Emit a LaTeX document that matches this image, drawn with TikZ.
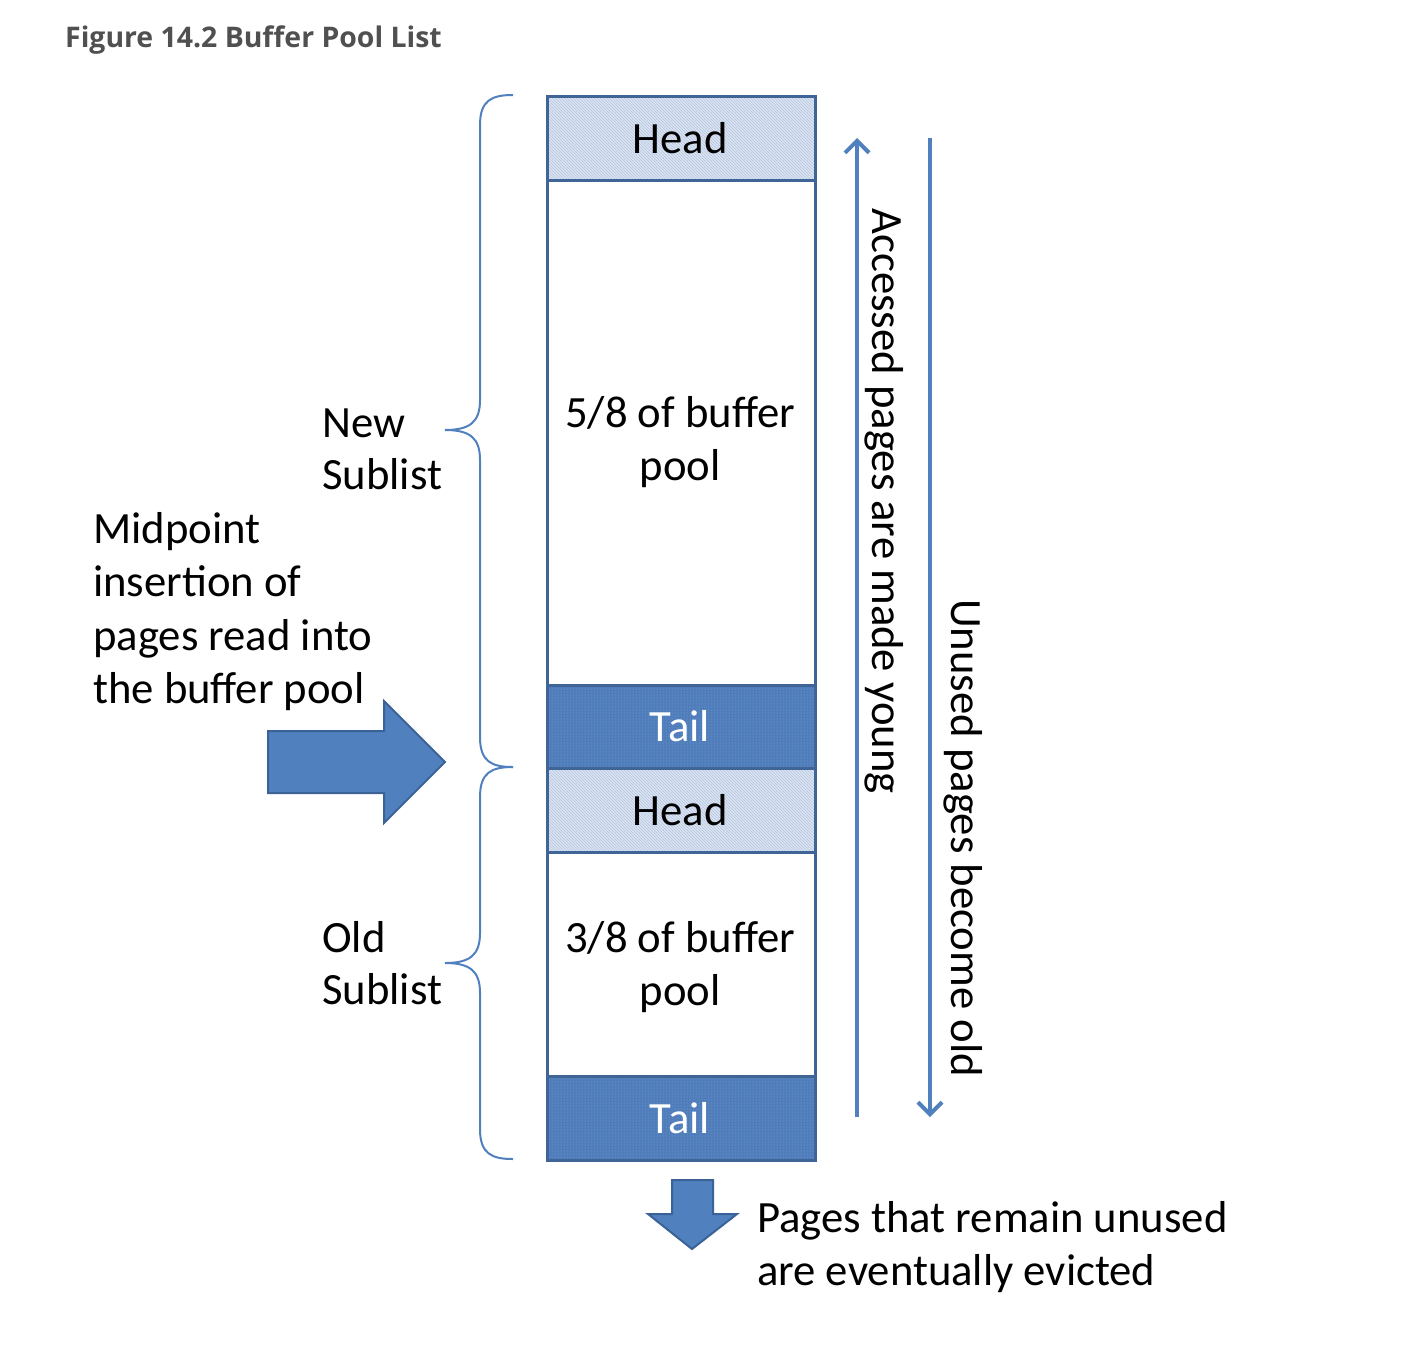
\documentclass[tikz,border=0pt]{standalone}
\usepackage{fontspec}
\setmainfont{Carlito}
\newfontfamily\titlefont{Open Sans}
\usetikzlibrary{patterns,arrows.meta}
\definecolor{boxborder}{HTML}{3F6496}
\definecolor{tailblue}{HTML}{4F7DBB}
\definecolor{taildot}{HTML}{86A6D3}
\definecolor{headblue}{HTML}{DCE4F1}
\definecolor{headline}{HTML}{B3C5E0}
\definecolor{lineblue}{HTML}{5081BE}
\definecolor{arrowedge}{HTML}{3B6296}
\definecolor{titlegray}{HTML}{505050}
\begin{document}
\begin{tikzpicture}[x=1pt,y=-1pt,
  cell/.style={draw=boxborder, line width=3pt, minimum width=268pt, inner sep=0pt, anchor=north west},
  headcell/.style={cell, preaction={fill=headblue}, pattern=north west lines, pattern color=headline},
  tailcell/.style={cell, preaction={fill=tailblue}, pattern=dots, pattern color=taildot},
  bodycell/.style={cell, fill=white},
  txt/.style={font=\fontsize{44.7}{54}\selectfont, inner sep=0pt, text=black},
  brace/.style={draw=lineblue, line width=2pt},
  flow/.style={draw=lineblue, line width=4pt},
  fatarrow/.style={fill=lineblue, draw=arrowedge, line width=2pt, line join=miter}
]
\useasboundingbox (0,0) rectangle (1404,1352);
% title
\node[anchor=base west, inner sep=0pt, font=\titlefont\bfseries\fontsize{28.4}{34}\selectfont, text=titlegray] (title) at (65,47) {Figure 14.2 Buffer Pool List};
% cells
\node[headcell, minimum height=84pt] (head1) at (546,95) {};
\node[bodycell, minimum height=505pt] (body1) at (546,179) {};
\node[tailcell, minimum height=83pt] (tail1) at (546,684) {};
\node[headcell, minimum height=84pt] (head2) at (546,767) {};
\node[bodycell, minimum height=224pt] (body2) at (546,851) {};
\node[tailcell, minimum height=84pt] (tail2) at (546,1075) {};
% cell labels
\node[txt, anchor=base] (lh1) at (680,153) {Head};
\node[txt, anchor=base] (lb1a) at (680,427) {5/8 of buffer};
\node[txt, anchor=base] (lb1b) at (680,480) {pool};
\node[txt, anchor=base, text=white] (lt1) at (680,741) {Tail};
\node[txt, anchor=base] (lh2) at (680,825) {Head};
\node[txt, anchor=base] (lb2a) at (680,952) {3/8 of buffer};
\node[txt, anchor=base] (lb2b) at (680,1005) {pool};
\node[txt, anchor=base, text=white] (lt2) at (680,1133) {Tail};
% braces
\draw[brace] (513,95) .. controls (492,95) and (480,100) .. (480,125) -- (480,400) .. controls (480,422) and (470,430) .. (445,430)
  .. controls (470,430) and (480,438) .. (480,460) -- (480,737) .. controls (480,762) and (492,767) .. (513,767);
\draw[brace] (513,767) .. controls (492,767) and (480,772) .. (480,797) -- (480,933) .. controls (480,955) and (470,963) .. (445,963)
  .. controls (470,963) and (480,971) .. (480,993) -- (480,1129) .. controls (480,1154) and (492,1159) .. (513,1159);
% brace labels
\node[txt, anchor=base west] (new1) at (322,437) {New};
\node[txt, anchor=base west] (new2) at (322,489) {Sublist};
\node[txt, anchor=base west] (old1) at (322,952) {Old};
\node[txt, anchor=base west] (old2) at (322,1004) {Sublist};
% midpoint text
\node[txt, anchor=base west] (m1) at (93,543) {Midpoint};
\node[txt, anchor=base west] (m2) at (93,596) {insertion of};
\node[txt, anchor=base west] (m3) at (93,650) {pages read into};
\node[txt, anchor=base west] (m4) at (93,703) {the buffer pool};
% big right arrow
\draw[fatarrow] (268,731) -- (384,731) -- (384,701) -- (445,762) -- (384,823) -- (384,793) -- (268,793) -- cycle;
% down arrow
\draw[fatarrow] (672,1180) -- (713,1180) -- (713,1214) -- (737,1214) -- (692,1249) -- (648,1214) -- (672,1214) -- cycle;
% bottom text
\node[txt, anchor=base west] (ev1) at (757,1232) {Pages that remain unused};
\node[txt, anchor=base west] (ev2) at (757,1285) {are eventually evicted};
% flow arrows
\coordinate (upbot) at (857,1117);
\coordinate (uptop) at (857,138);
\coordinate (dntop) at (930,138);
\coordinate (dnbot) at (930,1117);
\draw[flow, -{Straight Barb[length=12pt,width=24pt,line width=4pt]}] (upbot) -- (uptop);
\draw[flow, -{Straight Barb[length=12pt,width=24pt,line width=4pt]}] (dntop) -- (dnbot);
\node[txt, rotate=-90, anchor=base] (acc) at (872,501) {Accessed pages are made young};
\node[txt, rotate=-90, anchor=base] (unu) at (951,838) {Unused pages become old};
\end{tikzpicture}
\end{document}
